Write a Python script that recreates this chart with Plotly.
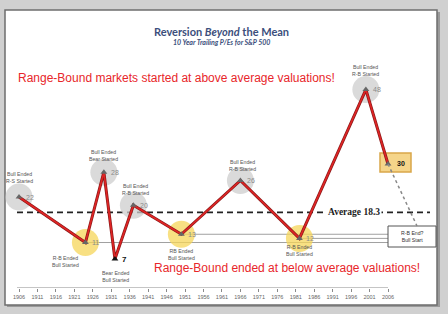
import plotly.graph_objects as go

# ---------------- data ----------------
years = [1906, 1924, 1929, 1932, 1937, 1950, 1966, 1982, 2000, 2006]
pe_values = [22, 11, 28, 7, 20, 13, 26, 12, 48, 30]
point_labels = ["22", "11", "28", "7", "20", "13", "26", "12", "48", "30"]
event_labels = [
    "Bull Ended<br>R-S Started",
    "R-B Ended<br>Bull Started",
    "Bull Ended<br>Bear Started",
    "Bear Ended<br>Bull Started",
    "Bull Ended<br>R-B Started",
    "RB Ended<br>Bull Started",
    "Bull Ended<br>R-B Started",
    "R-B Ended<br>Bull Started",
    "Bull Ended<br>R-B Started",
    "",
]
circle_kind = ["peak", "trough", "peak", "none", "peak", "trough", "peak", "trough", "peak", "none"]
average_pe = 18.3
tick_years = list(range(1906, 2007, 5))
support_idx = [1, 5, 7]  # troughs whose valuation levels are carried to the right

# ---------------- geometry helpers (styling only) ----------------
W, H = 448, 314
ML, MR, MT, MB = 10, 10, 10, 26
PX_PER_YEAR = 3.69
PX_PER_PE = 4.135
X0 = 1906 - (19 - ML) / PX_PER_YEAR
X1 = X0 + (W - ML - MR) / PX_PER_YEAR
Y1 = (H - MT - MB) / PX_PER_PE


def px2yr(px):
    return X0 + (px - ML) / PX_PER_YEAR


def py2pe(py):
    return (H - MB - py) / PX_PER_PE


def pxx(px):
    return (px - ML) / (W - ML - MR)


def pxy(py):
    return (H - MB - py) / (H - MT - MB)


fig = go.Figure()

# circles
gx = [x for x, k in zip(years, circle_kind) if k == "peak"]
gy = [y for y, k in zip(pe_values, circle_kind) if k == "peak"]
tx = [x for x, k in zip(years, circle_kind) if k == "trough"]
ty = [y for y, k in zip(pe_values, circle_kind) if k == "trough"]
fig.add_trace(go.Scatter(x=gx, y=gy, mode="markers",
                         marker=dict(size=27, color="rgba(205,205,205,0.75)", line=dict(width=0)),
                         hoverinfo="skip", cliponaxis=False))
fig.add_trace(go.Scatter(x=tx, y=ty, mode="markers",
                         marker=dict(size=27, color="rgba(246,214,90,0.75)", line=dict(width=0)),
                         hoverinfo="skip", cliponaxis=False))

shapes = []
# white slide panel
shapes.append(dict(type="rect", xref="paper", yref="paper", layer="below",
                   x0=pxx(7), x1=pxx(440), y0=pxy(307), y1=pxy(12),
                   fillcolor="#9a9a9a", line=dict(width=0)))
shapes.append(dict(type="rect", xref="paper", yref="paper", layer="below",
                   x0=pxx(5), x1=pxx(437), y0=pxy(305), y1=pxy(10),
                   fillcolor="white", line=dict(color="#6e6e6e", width=1.5)))

# support lines (gray) from troughs to the box
box_left = px2yr(388)
for i in support_idx:
    shapes.append(dict(type="line", xref="x", yref="y", layer="below",
                       x0=years[i], x1=box_left, y0=pe_values[i], y1=pe_values[i],
                       line=dict(color="#a0a0a0", width=1)))

# average dashed line
shapes.append(dict(type="line", xref="x", yref="y", layer="below",
                   x0=px2yr(17), x1=px2yr(430), y0=average_pe, y1=average_pe,
                   line=dict(color="#222222", width=1.6, dash="6px,4px")))

# x axis line
shapes.append(dict(type="line", xref="x", yref="y", x0=px2yr(17), x1=tick_years[-1],
                   y0=0, y1=0, line=dict(color="#8a8a8a", width=1)))

# highlight box around latest value
lx, ly = years[-1], pe_values[-1]
shapes.append(dict(type="rect", xref="x", yref="y", layer="below",
                   x0=lx - 8 / PX_PER_YEAR, x1=lx + 23 / PX_PER_YEAR,
                   y0=ly - 8 / PX_PER_PE, y1=ly + 11 / PX_PER_PE,
                   fillcolor="#f5d58a", line=dict(color="#d9a64a", width=1.5)))

# "R-B End? Bull Start" box
shapes.append(dict(type="rect", xref="x", yref="y",
                   x0=px2yr(388), x1=px2yr(436), y0=py2pe(247), y1=py2pe(226),
                   fillcolor="white", line=dict(color="#555555", width=1)))

# dotted connector
shapes.append(dict(type="line", xref="x", yref="y",
                   x0=lx, x1=px2yr(417), y0=ly, y1=py2pe(226),
                   line=dict(color="#888888", width=1.5, dash="dot")))

# red line with dark edge
fig.add_trace(go.Scatter(x=years, y=pe_values, mode="lines",
                         line=dict(color="#8a1a1a", width=3), hoverinfo="skip"))
fig.add_trace(go.Scatter(x=years, y=pe_values, mode="lines",
                         line=dict(color="#e02424", width=1.6), hoverinfo="skip"))

# point markers
mcolors = ["#111111" if i == 3 else "#666666" for i in range(len(years))]
fig.add_trace(go.Scatter(x=years, y=pe_values, mode="markers",
                         marker=dict(symbol="triangle-up", size=6, color=mcolors),
                         hoverinfo="skip", cliponaxis=False))

annotations = []
# value labels
for i, (x, y, t) in enumerate(zip(years, pe_values, point_labels)):
    bold = i in (3, 9)
    annotations.append(dict(x=x, y=y, xref="x", yref="y", text=f"<b>{t}</b>" if bold else t,
                            showarrow=False, xanchor="left", xshift=5 if i != 9 else 7,
                            font=dict(family="Liberation Sans", size=8 if i == 3 else 7,
                                      color="#111111" if bold else "#8a8a8a")))

# event labels: (dx, dy) pixel offsets for label centres
label_offsets = [(0, 20), (-20, -19), (0, 17), (1, -17), (2, 16), (0, -20), (2, 15), (0, -12), (0, 19), (0, 0)]
for (x, y, t), (dx, dy) in zip(zip(years, pe_values, event_labels), label_offsets):
    if not t:
        continue
    annotations.append(dict(x=x, y=y, xref="x", yref="y", text=t, showarrow=False,
                            xshift=dx, yshift=dy, align="center",
                            font=dict(family="Liberation Sans", size=5.2, color="#555555")))

# box text
annotations.append(dict(x=px2yr(412), y=py2pe(236.5), xref="x", yref="y",
                        text="R-B End?<br>Bull Start", showarrow=False,
                        font=dict(family="Liberation Sans", size=5.2, color="#333333")))
# average label
annotations.append(dict(x=px2yr(354), y=average_pe, xref="x", yref="y",
                        text=f"<b>Average {average_pe}</b>", showarrow=False, bgcolor="white",
                        borderpad=1,
                        font=dict(family="Liberation Serif", size=9.5, color="#222222")))
# titles
annotations.append(dict(x=pxx(221), y=pxy(23), xref="paper", yref="paper",
                        text="<b>Reversion <i>Beyond</i> the Mean</b>", showarrow=False,
                        font=dict(family="Lato", size=11, color="#3c4f7c")))
annotations.append(dict(x=pxx(221), y=pxy(36), xref="paper", yref="paper",
                        text="<b><i>10 Year Trailing P/Es for S&amp;P 500</i></b>", showarrow=False,
                        font=dict(family="Lato", size=7, color="#3c4f7c")))
# red call-outs
annotations.append(dict(x=pxx(176), y=pxy(69), xref="paper", yref="paper",
                        text="Range-Bound markets started at above average valuations!",
                        showarrow=False,
                        font=dict(family="Liberation Sans", size=12, color="#e8262a")))
annotations.append(dict(x=pxx(287), y=pxy(277), xref="paper", yref="paper",
                        text="Range-Bound ended at below average valuations!",
                        showarrow=False,
                        font=dict(family="Liberation Sans", size=12, color="#e8262a")))

fig.update_layout(
    width=W, height=H,
    margin=dict(l=ML, r=MR, t=MT, b=MB),
    paper_bgcolor="#d0d0d0",
    plot_bgcolor="rgba(0,0,0,0)",
    showlegend=False,
    shapes=shapes,
    annotations=annotations,
    xaxis=dict(range=[X0, X1], tickvals=tick_years, ticktext=[str(t) for t in tick_years],
               showgrid=False, zeroline=False, showline=False,
               ticks="outside", ticklen=3, tickcolor="#8a8a8a", tickwidth=1,
               tickfont=dict(family="Liberation Sans", size=5.5, color="#666666")),
    yaxis=dict(range=[0, Y1], visible=False, showgrid=False, zeroline=False),
)

fig.write_html("out.html")
